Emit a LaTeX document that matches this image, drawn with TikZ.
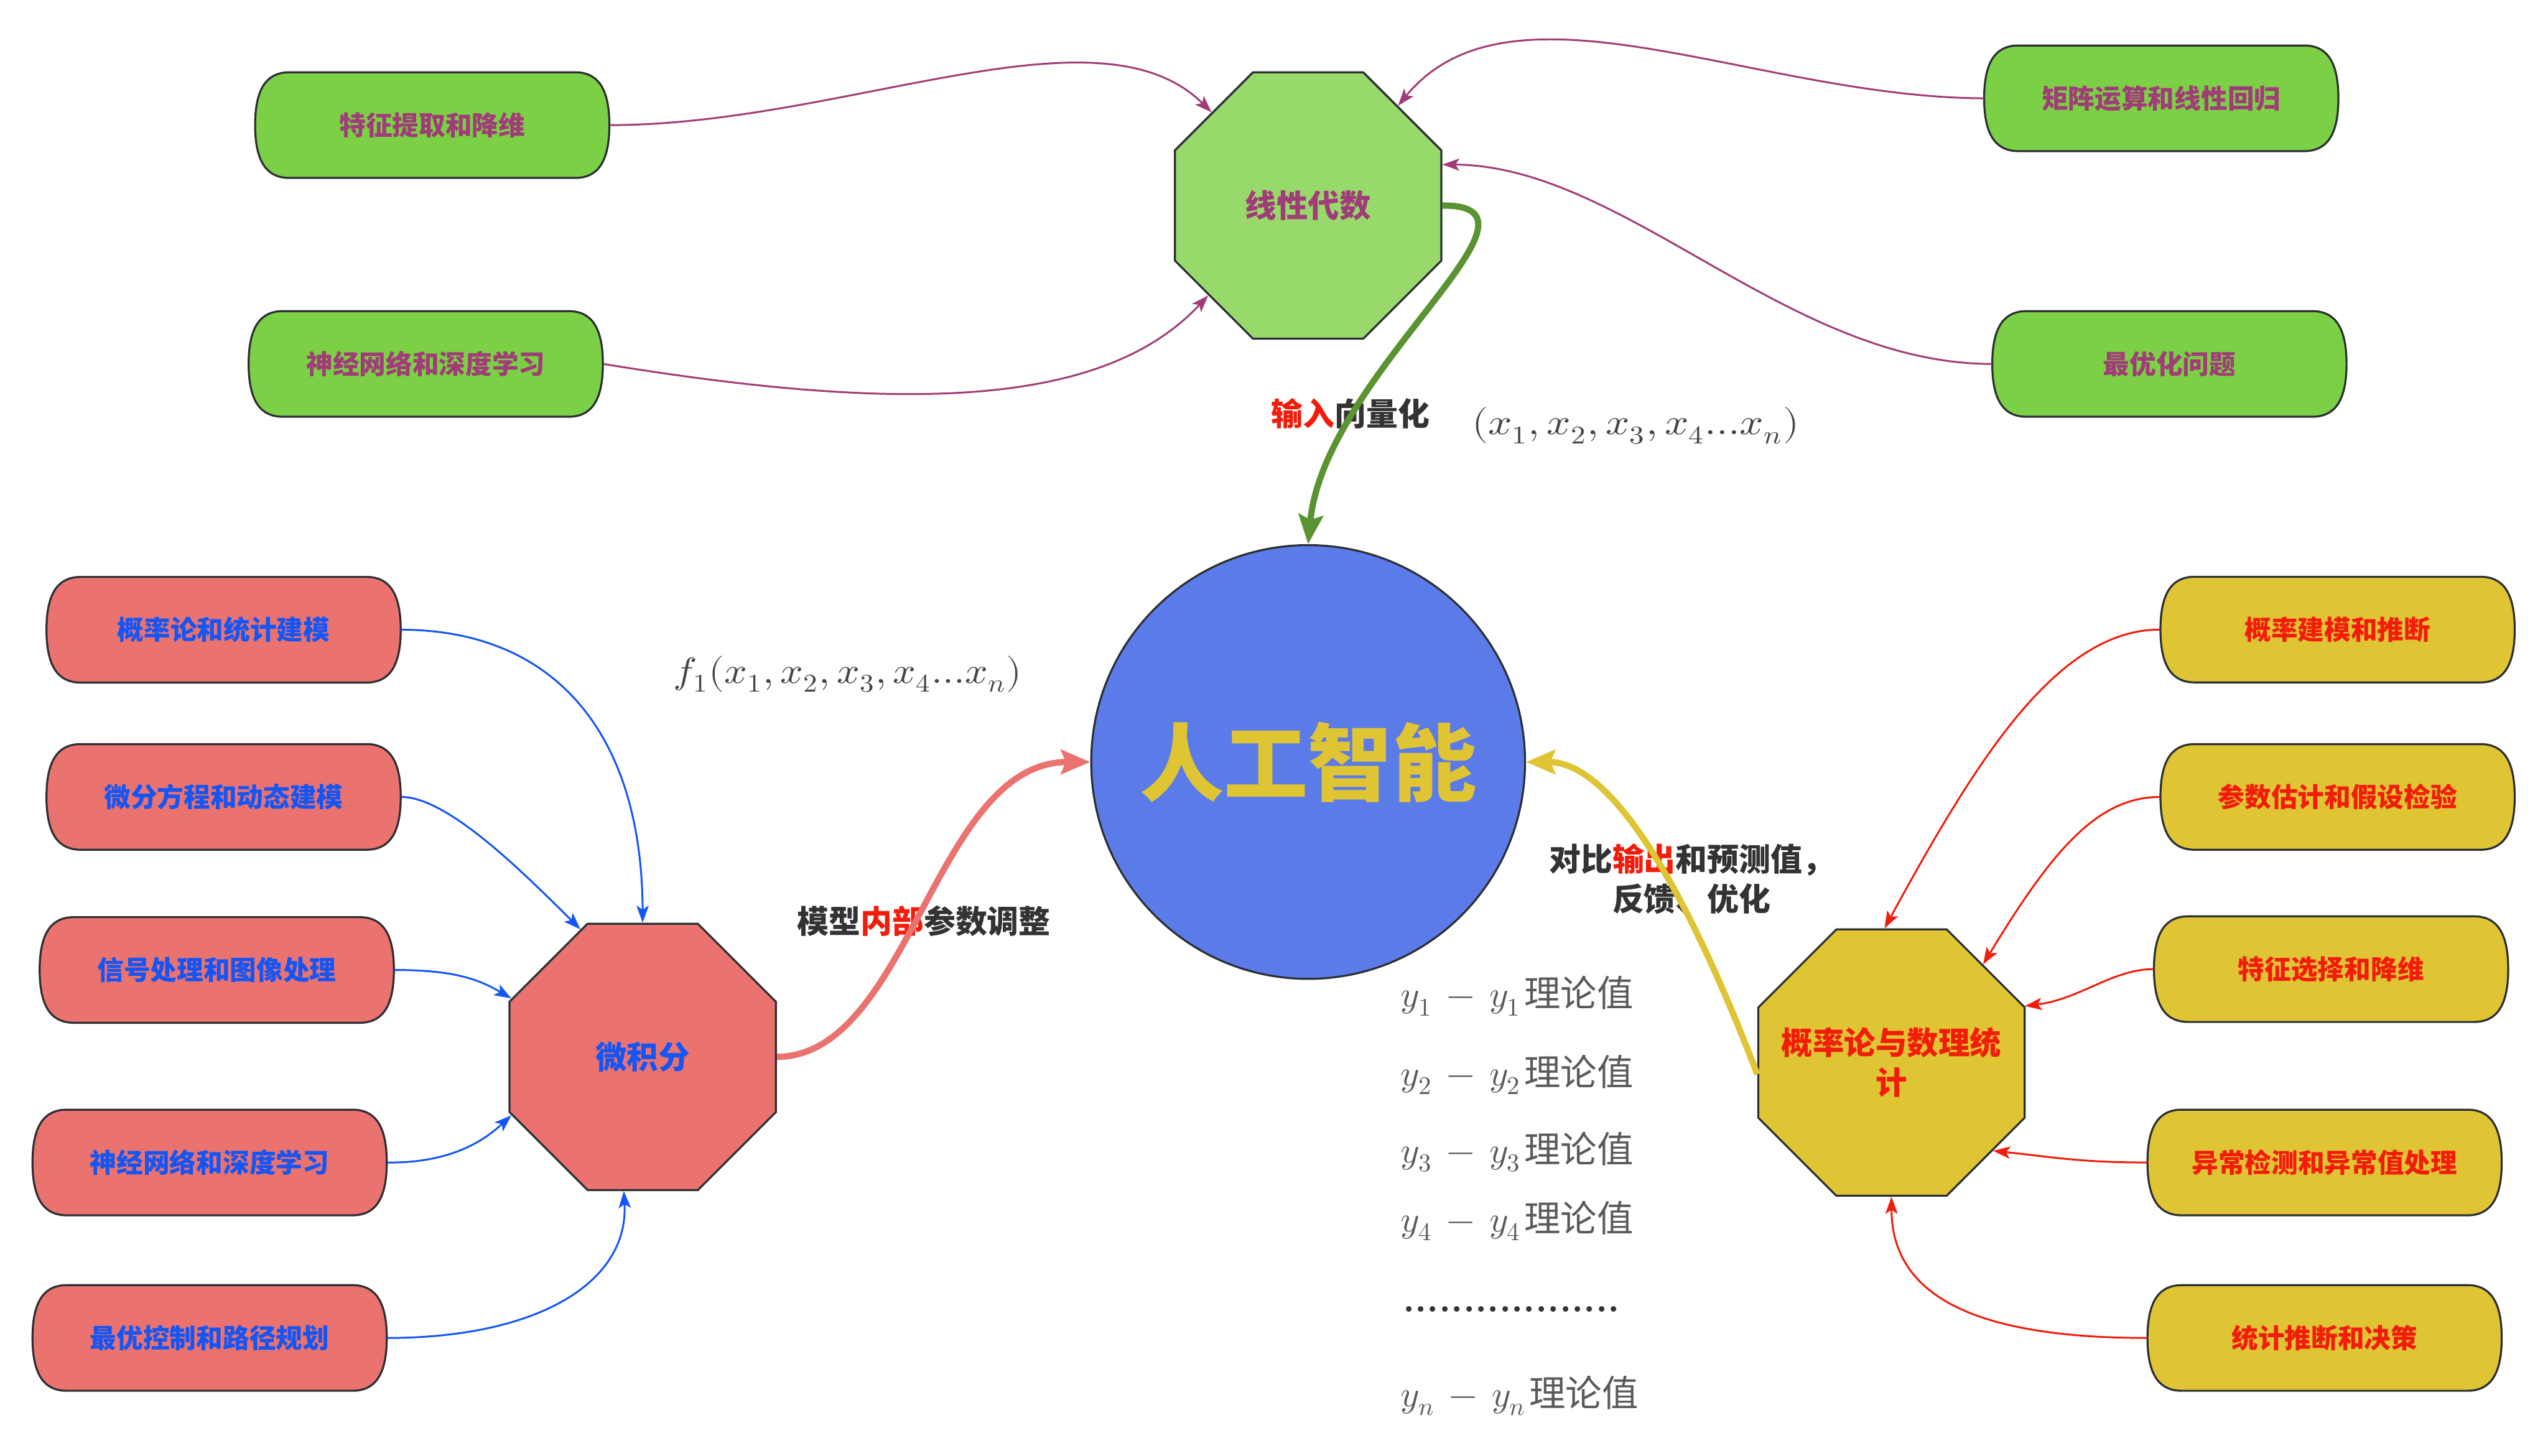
\documentclass[tikz,border=0pt]{standalone}
\usepackage{unicode-math}
\newfontfamily\cjk{Noto Sans CJK SC}
\usetikzlibrary{arrows.meta,shapes.geometric}
\definecolor{edgegray}{HTML}{2B2F33}
\definecolor{pillgreen}{HTML}{7BD045}
\definecolor{octgreen}{HTML}{97D96B}
\definecolor{fillred}{HTML}{EA726F}
\definecolor{fillyellow}{HTML}{DFC433}
\definecolor{circblue}{HTML}{5B7BE8}
\definecolor{cpurple}{HTML}{A03D78}
\definecolor{cblue}{HTML}{1455F5}
\definecolor{cred}{HTML}{F21C0A}
\definecolor{cgreen}{HTML}{5A9432}
\definecolor{darktext}{HTML}{333333}
\definecolor{mathgray}{HTML}{444444}
\definecolor{ygray}{HTML}{5A5A5A}
\newcommand\pillbox[6]{%
  \draw[line width=0.7pt, draw=edgegray, fill=#5] (#2-88,#3-32.5) -- (#2+88,#3-32.5)
   .. controls (#2+100.6,#3-32.5) and (#2+109,#3-24.4) .. (#2+109,#3)
   .. controls (#2+109,#3+24.4) and (#2+100.6,#3+32.5) .. (#2+88,#3+32.5)
   -- (#2-88,#3+32.5)
   .. controls (#2-100.6,#3+32.5) and (#2-109,#3+24.4) .. (#2-109,#3)
   .. controls (#2-109,#3-24.4) and (#2-100.6,#3-32.5) .. (#2-88,#3-32.5) -- cycle;
  \node[pilltext, text=#6] (#1) at (#2,#3) {#4};
}
\begin{document}
\begin{tikzpicture}[x=0.02cm,y=-0.02cm,
  pilltext/.style={minimum width=4.36cm, minimum height=1.3cm, inner sep=0, font=\cjk\bfseries\fontsize{9.3}{11}\selectfont},
  octa/.style={regular polygon, regular polygon sides=8, minimum size=3.55cm, inner sep=0, draw=edgegray, line width=0.7pt},
  octtext/.style={inner sep=0, font=\cjk\bfseries\fontsize{11}{13.9}\selectfont, align=center},
  conn/.style={line width=0.65pt, -{Stealth[length=0.21cm, width=0.15cm, inset=0.05cm]}},
  bigconn/.style={line width=2.2pt, -{Stealth[length=0.36cm, width=0.30cm, inset=0.06cm]}},
  lbl/.style={inner sep=0, font=\cjk\bfseries\fontsize{11.1}{13.9}\selectfont, text=darktext, align=center},
  mathlbl/.style={inner sep=0, text=mathgray, font=\fontsize{12.75}{15}\selectfont},
  ylbl/.style={inner sep=0, anchor=west, text=ygray, font=\fontsize{12.75}{15}\selectfont},
  dotlbl/.style={inner sep=0, anchor=west, text=darktext, font=\bfseries\fontsize{13.5}{15}\selectfont}
]
\useasboundingbox (0,0) rectangle (1568,896);

% pills
\pillbox{gp1}{266}{77}{特征提取和降维}{pillgreen}{cpurple}
\pillbox{gp2}{262}{224}{神经网络和深度学习}{pillgreen}{cpurple}
\pillbox{gp3}{1330}{60.5}{矩阵运算和线性回归}{pillgreen}{cpurple}
\pillbox{gp4}{1335}{224}{最优化问题}{pillgreen}{cpurple}

\pillbox{rp1}{137.6}{387.6}{概率论和统计建模}{fillred}{cblue}
\pillbox{rp2}{137.6}{490.5}{微分方程和动态建模}{fillred}{cblue}
\pillbox{rp3}{133.4}{597}{信号处理和图像处理}{fillred}{cblue}
\pillbox{rp4}{129}{715.5}{神经网络和深度学习}{fillred}{cblue}
\pillbox{rp5}{129}{823.5}{最优控制和路径规划}{fillred}{cblue}

\pillbox{yp1}{1438.5}{387.5}{概率建模和推断}{fillyellow}{cred}
\pillbox{yp2}{1438.5}{490.5}{参数估计和假设检验}{fillyellow}{cred}
\pillbox{yp3}{1434.5}{596.5}{特征选择和降维}{fillyellow}{cred}
\pillbox{yp4}{1430.5}{715.5}{异常检测和异常值处理}{fillyellow}{cred}
\pillbox{yp5}{1430.5}{823.5}{统计推断和决策}{fillyellow}{cred}

% octagons and circle
\node[octa, fill=octgreen] (la) at (805,126.5) {};
\node[octtext, text=cpurple] (la-t) at (la.center) {线性代数};
\node[octa, fill=fillred] (ca) at (395.5,650.5) {};
\node[octtext, text=cblue] (ca-t) at (ca.center) {微积分};
\node[octa, fill=fillyellow] (pa) at (1164,654) {};
\node[octtext, text=cred] (pa-t) at (pa.center) {概率论与数理统\\计};
\node[circle, minimum size=5.34cm, inner sep=0, fill=circblue, draw=edgegray, line width=0.7pt, text=fillyellow, font=\cjk\bfseries\fontsize{29.5}{35}\selectfont] (ai) at (805,469) {人工智能};

% labels
\node[lbl] (lin) at (831,254.5) {\textcolor{cred}{输入}向量化};
\node[mathlbl] (xv) at (1006.5,262) {\scalebox{1.15}[1]{$(x_1,x_2,x_3,x_4...x_n)$}};
\node[mathlbl] (fv) at (521.7,415) {\scalebox{1.1}[1]{$f_1(x_1,x_2,x_3,x_4...x_n)$}};
\node[lbl] (lmid) at (568.5,567) {模型\textcolor{cred}{内部}参数调整};
\node[lbl] (lfb) at (1041,541) {对比\textcolor{cred}{输出}和预测值，\\反馈、优化};

\node[ylbl] (y1) at (861.6,613) {$y_1\mskip3mu-\mskip3mu y_1$\hspace{1pt}{\cjk 理论值}};
\node[ylbl] (y2) at (861.6,661.5) {$y_2\mskip3mu-\mskip3mu y_2$\hspace{1pt}{\cjk 理论值}};
\node[ylbl] (y3) at (861.6,709) {$y_3\mskip3mu-\mskip3mu y_3$\hspace{1pt}{\cjk 理论值}};
\node[ylbl] (y4) at (861.6,751.5) {$y_4\mskip3mu-\mskip3mu y_4$\hspace{1pt}{\cjk 理论值}};
\node[dotlbl] (yd) at (862.9,806) {..................};
\node[ylbl] (yn) at (861.6,859) {$y_n\mskip3mu-\mskip3mu y_n$\hspace{1pt}{\cjk 理论值}};

% thin connectors: top
\draw[conn, cpurple] (gp1.east) .. controls (520,77) and (676,0) .. (la.136);
\draw[conn, cpurple] (gp2.east) .. controls (560,255) and (680,250) .. (la.222);
\draw[conn, cpurple] (gp3.west) .. controls (1080,60) and (930,-20) .. (la.48);
\draw[conn, cpurple] (gp4.west) .. controls (1100,224) and (1000,102) .. (la.17);

% thin connectors: left
\draw[conn, cblue] (rp1.east) .. controls (340,387.6) and (395,450) .. (ca.north);
\draw[conn, cblue] (rp2.east) .. controls (275,490.5) and (320,535) .. (ca.116);
\draw[conn, cblue] (rp3.east) .. controls (280,597) and (295,603) .. (ca.156);
\draw[conn, cblue] (rp4.east) .. controls (280,716) and (300,700) .. (ca.204.6);
\draw[conn, cblue] (rp5.east) .. controls (330,823.5) and (387,790) .. (ca.262.8);

% thin connectors: right
\draw[conn, cred] (yp1.west) .. controls (1265,387.5) and (1215,470) .. (pa.93.8);
\draw[conn, cred] (yp2.west) .. controls (1290,490.5) and (1262,525) .. (pa.47);
\draw[conn, cred] (yp3.west) .. controls (1300,596.5) and (1280,615) .. (pa.23.4);
\draw[conn, cred] (yp4.west) .. controls (1280,715.5) and (1262,712) .. (pa.319);
\draw[conn, cred] (yp5.west) .. controls (1220,823.5) and (1164,800) .. (pa.south);

% thick connectors
\draw[bigconn, cgreen] (la.east) .. controls (965,126) and (815,230) .. (ai.north);
\draw[bigconn, fillred] (ca.east) .. controls (560,650) and (575,469) .. (ai.west);
\draw[bigconn, fillyellow] (pa.185) .. controls (1035,540) and (990,469) .. (ai.east);
\end{tikzpicture}
\end{document}
